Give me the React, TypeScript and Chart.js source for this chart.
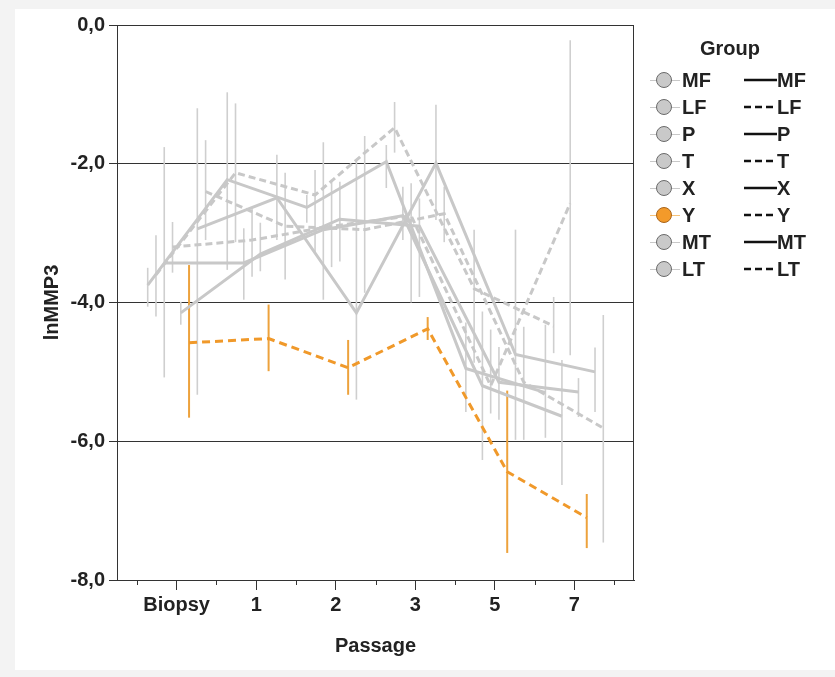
import React, { useEffect, useRef } from 'react';
import { Chart, registerables } from 'chart.js';
Chart.register(...registerables);

const passages = ['Biopsy', '1', '2', '3', '5', '7'];
const groups = ['MF', 'LF', 'P', 'T', 'X', 'Y', 'MT', 'LT'];
const dashedGroups = [false, true, false, true, false, true, false, true];

const MF_mean = [-3.75, -2.23, -2.63, -1.97, -4.95, -5.3];
const MF_low = [-4.06, -3.53, -2.85, -2.35, -5.58, -5.95];
const MF_high = [-3.5, -0.97, -2.45, -1.73, -4.29, -4.32];

const LF_mean = [-3.6, -2.13, -2.45, -1.48, -3.8, -4.34];
const LF_low = [-4.2, -3.13, -3.29, -1.84, -4.87, -4.73];
const LF_high = [-3.03, -1.13, -2.09, -1.11, -2.95, -3.92];

const P_mean = [-3.43, -3.43, -2.95, -2.75, -5.2, -5.64];
const P_low = [-5.08, -3.96, -3.96, -3.1, -6.27, -6.63];
const P_high = [-1.76, -2.93, -1.69, -2.33, -4.13, -4.83];

const T_mean = [-3.2, -3.1, -2.9, -2.75, -5.2, -2.57];
const T_low = [-3.57, -3.63, -3.49, -4.0, -5.6, -4.76];
const T_high = [-2.84, -2.65, -2.23, -2.28, -4.39, -0.22];

const X_mean = [-4.15, -3.3, -2.8, -2.9, -5.15, -5.29];
const X_low = [-4.32, -3.55, -3.41, -3.92, -5.69, -5.65];
const X_high = [-3.99, -2.85, -2.26, -2.5, -4.64, -5.09];

const Y_mean = [-4.58, -4.52, -4.94, -4.38, -6.44, -7.1];
const Y_low = [-5.66, -4.99, -5.33, -4.54, -7.61, -7.54];
const Y_high = [-3.46, -4.03, -4.54, -4.21, -5.27, -6.76];

const MT_mean = [-2.94, -2.49, -4.15, -1.99, -4.75, -5.0];
const MT_low = [-5.33, -3.1, -5.4, -2.81, -5.98, -5.58];
const MT_high = [-1.2, -1.87, -1.95, -1.15, -2.95, -4.65];

const LT_mean = [-2.4, -2.9, -2.95, -2.72, -5.15, -5.81];
const LT_low = [-3.1, -3.67, -3.86, -3.13, -5.98, -7.46];
const LT_high = [-1.66, -2.13, -1.6, -2.33, -4.35, -4.18];

const means = [MF_mean, LF_mean, P_mean, T_mean, X_mean, Y_mean, MT_mean, LT_mean];
const lows = [MF_low, LF_low, P_low, T_low, X_low, Y_low, MT_low, LT_low];
const highs = [MF_high, LF_high, P_high, T_high, X_high, Y_high, MT_high, LT_high];

const DODGE = 0.104;
const GREY = '#c8c8c8';
const GREY_BAR = '#cfcfcf';
const ORANGE = '#f0992a';
const ORANGE_BAR = '#eda23c';
const HIGHLIGHT = 5;
const FONT = 'Liberation Sans, Arial, sans-serif';
const FS = 20;

export default function App() {
  const ref = useRef<HTMLCanvasElement>(null);
  useEffect(() => {
    const canvas = ref.current!;
    const datasets = groups.map((g, k) => ({
      label: g,
      data: means[k].map((v, i) => ({ x: i + (k - 3.5) * DODGE, y: v })),
      low: lows[k],
      high: highs[k],
      borderColor: k === HIGHLIGHT ? ORANGE : GREY,
      borderWidth: 3,
      borderDash: dashedGroups[k] ? (k === HIGHLIGHT ? [8, 5] : [7, 4]) : [],
      pointRadius: 0,
      fill: false,
      tension: 0,
      order: k === HIGHLIGHT ? 0 : 1,
    }));

    const errorBars = {
      id: 'errorBars',
      beforeDatasetsDraw(chart: any) {
        const { ctx, scales } = chart;
        const xs = scales.x, ys = scales.y;
        ctx.save();
        chart.data.datasets.forEach((ds: any, k: number) => {
          ctx.strokeStyle = k === HIGHLIGHT ? ORANGE_BAR : GREY_BAR;
          ctx.lineWidth = k === HIGHLIGHT ? 2 : 1.6;
          ds.data.forEach((p: any, i: number) => {
            const px = xs.getPixelForValue(p.x);
            ctx.beginPath();
            ctx.moveTo(px, ys.getPixelForValue(ds.low[i]));
            ctx.lineTo(px, ys.getPixelForValue(ds.high[i]));
            ctx.stroke();
          });
        });
        ctx.restore();
      },
    };

    const frame = {
      id: 'frame',
      afterDraw(chart: any) {
        const { ctx, chartArea: a, scales } = chart;
        ctx.save();
        ctx.strokeStyle = '#333';
        ctx.lineWidth = 1;
        ctx.beginPath();
        ctx.moveTo(a.left, a.top + 0.5);
        ctx.lineTo(a.right - 0.5, a.top + 0.5);
        ctx.lineTo(a.right - 0.5, a.bottom);
        ctx.stroke();
        const xs = scales.x;
        for (let i = 0; i <= passages.length; i++) {
          const px = Math.round(xs.getPixelForValue(i - 0.5)) + 0.5;
          ctx.beginPath();
          ctx.moveTo(px, a.bottom);
          ctx.lineTo(px, a.bottom + 5);
          ctx.stroke();
        }
        ctx.restore();
      },
    };

    const chart = new Chart(canvas, {
      type: 'line',
      data: { datasets: datasets as any },
      options: {
        animation: false,
        responsive: false,
        maintainAspectRatio: false,
        layout: { padding: { left: 0, top: 25, right: 201, bottom: 0 } },
        plugins: { legend: { display: false }, tooltip: { enabled: false } },
        scales: {
          x: {
            type: 'linear',
            min: -0.75,
            max: 5.75,
            afterBuildTicks: (s: any) => {
              s.ticks = passages.map((_, i) => ({ value: i }));
            },
            afterFit: (s: any) => {
              s.height = 97;
            },
            ticks: {
              autoSkip: false,
              maxRotation: 0,
              padding: 3,
              color: '#222',
              font: { family: FONT, weight: 'bold', size: FS },
              callback: (_v: any, i: number) => passages[i],
            },
            grid: { drawOnChartArea: false, tickLength: 10, color: '#333', tickColor: '#333' },
            border: { display: true, color: '#333' },
            title: {
              display: true,
              text: 'Passage',
              color: '#222',
              font: { family: FONT, weight: 'bold', size: FS },
              padding: { top: 0, bottom: 19 },
            },
          },
          y: {
            type: 'linear',
            min: -8,
            max: 0,
            afterFit: (s: any) => {
              s.width = 117;
            },
            ticks: {
              stepSize: 2,
              padding: 4,
              color: '#222',
              font: { family: FONT, weight: 'bold', size: FS },
              callback: (v: any) => Number(v).toFixed(1).replace('.', ','),
            },
            grid: { color: '#333', tickColor: '#333', tickLength: 8, lineWidth: 1 },
            border: { display: true, color: '#333' },
            title: {
              display: true,
              text: 'lnMMP3',
              color: '#222',
              font: { family: FONT, weight: 'bold', size: FS },
              padding: { top: 40, bottom: 0 },
            },
          },
        },
      },
      plugins: [errorBars, frame],
    } as any);
    return () => chart.destroy();
  }, []);

  const rowY = (i: number) => 80 + i * 27;
  const labelStyle: React.CSSProperties = {
    position: 'absolute',
    fontFamily: FONT,
    fontWeight: 'bold',
    fontSize: FS,
    color: '#222',
    lineHeight: '24px',
    whiteSpace: 'nowrap',
  };

  return (
    <div style={{ position: 'fixed', left: 0, top: 0, width: 835, height: 677, background: '#f3f3f3', overflow: 'hidden' }}>
      <div style={{ position: 'absolute', left: 15, top: 9, width: 820, height: 661, background: '#fff' }} />
      <canvas ref={ref} width={835} height={677} style={{ position: 'absolute', left: 0, top: 0, width: 835, height: 677 }} />
      <div style={{ ...labelStyle, left: 700, top: 36 }}>Group</div>
      {groups.map((g, i) => {
        const cy = rowY(i);
        const hl = i === HIGHLIGHT;
        return (
          <React.Fragment key={g}>
            <div style={{ position: 'absolute', left: 650, top: cy, width: 30, height: 1, background: hl ? '#f5c27a' : '#c8c8c8' }} />
            <div
              style={{
                position: 'absolute',
                left: 656,
                top: cy - 8,
                width: 16,
                height: 16,
                boxSizing: 'border-box',
                borderRadius: '50%',
                background: hl ? '#f39a2a' : '#c9c9c9',
                border: `1.5px solid ${hl ? '#a8641c' : '#6a6a6a'}`,
              }}
            />
            <div style={{ ...labelStyle, left: 682, top: cy - 12 }}>{g}</div>
            <svg style={{ position: 'absolute', left: 744, top: cy - 3 }} width={33} height={6}>
              <line
                x1={0}
                y1={3}
                x2={33}
                y2={3}
                stroke="#111"
                strokeWidth={2.5}
                strokeDasharray={dashedGroups[i] ? '7,4' : undefined}
              />
            </svg>
            <div style={{ ...labelStyle, left: 777, top: cy - 12 }}>{g}</div>
          </React.Fragment>
        );
      })}
    </div>
  );
}
